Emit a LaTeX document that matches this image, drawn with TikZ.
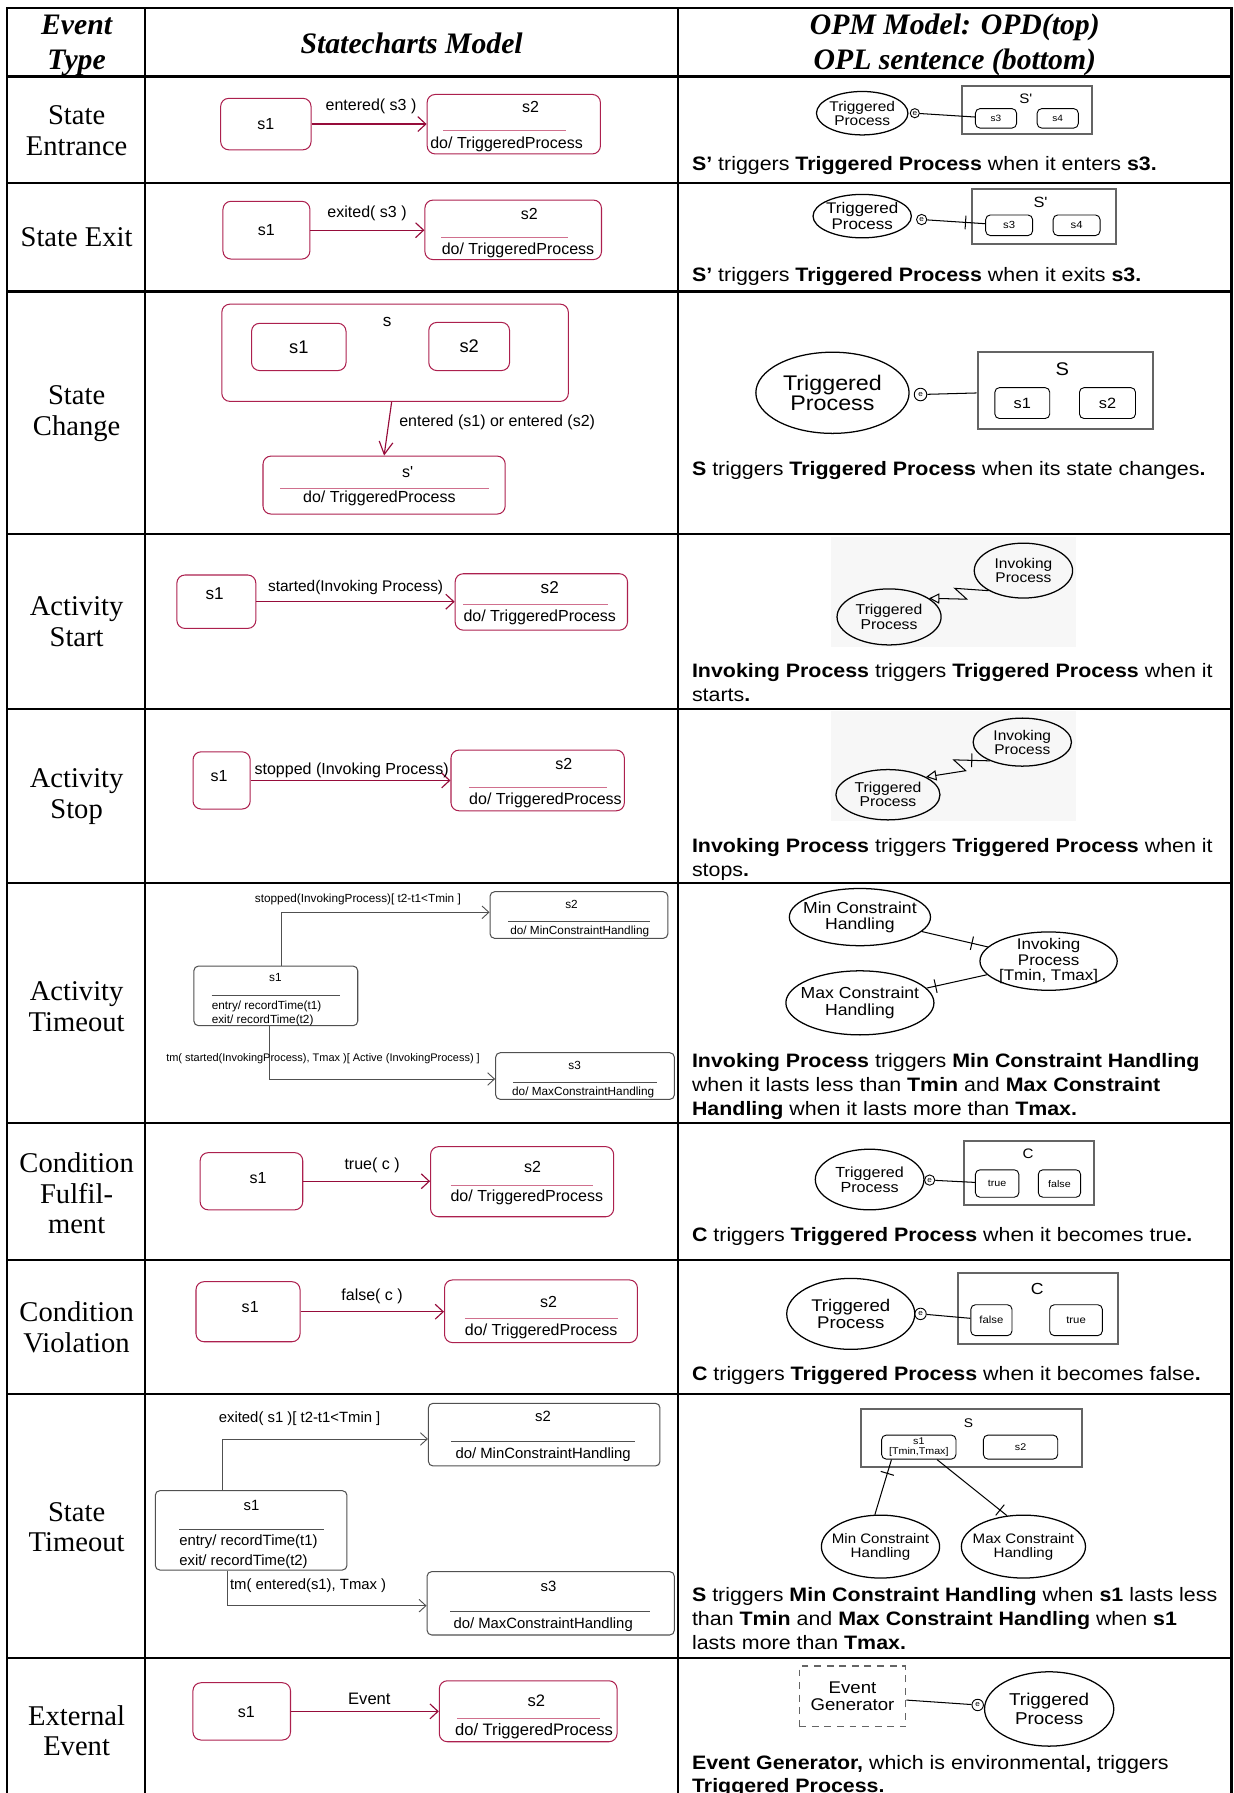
\documentclass[tikz,border=0pt]{standalone}
\usepackage{fontspec}
\setmainfont{Liberation Serif}
\newfontfamily\scfont{Liberation Sans}
\newfontfamily\opdfont[FakeStretch=1.1]{Liberation Sans}
\usetikzlibrary{arrows.meta,shapes.geometric}
\newcommand\txtsize[2]{\fontsize{#1}{#2}\selectfont}
\definecolor{scred}{RGB}{172,32,78}
\definecolor{scdark}{RGB}{150,12,58}
\definecolor{scdiv}{RGB}{208,112,142}
\definecolor{tmgrey}{RGB}{80,80,80}
\definecolor{opdgrey}{RGB}{100,100,100}
\tikzset{
  ruleline/.style={line width=2pt},
  colhead/.style={font=\bfseries\itshape\txtsize{26}{30.5}, align=center, inner sep=0pt},
  evtype/.style={font=\txtsize{25}{27}, align=center, inner sep=0pt},
  scbox/.style={draw=scred, line width=0.9pt, rounded corners=7pt, inner sep=0pt, font=\scfont\txtsize{14}{14}},
  sctext/.style={font=\scfont\txtsize{#1}{#1}, inner sep=0pt},
  scdivider/.style={draw=scdiv, line width=0.9pt},
  scarrow/.style={draw=scdark, line width=1pt, -{Straight Barb[length=7pt,width=13pt]}},
  tmbox/.style={draw=tmgrey, line width=0.9pt, rounded corners=4pt, inner sep=0pt},
  tmsmall/.style={font=\scfont\txtsize{10.3}{12.2}, inner sep=0pt},
  tmlarge/.style={font=\scfont\txtsize{13}{17.5}, inner sep=0pt},
  tmdivider/.style={draw=tmgrey, line width=0.9pt},
  tmarrow/.style={draw=tmgrey, line width=0.8pt, -{Straight Barb[length=6pt,width=11pt]}},
  proc/.style={draw, ellipse, line width=1.1pt, inner sep=-6pt, align=center},
  opdsize/.style={font=\opdfont\txtsize{#1}{#1}},
  objbox/.style={draw=opdgrey, line width=1.8pt, inner sep=0pt},
  statebox/.style={draw, rounded corners=4pt, line width=0.8pt, inner sep=0pt, align=center},
  evmark/.style={draw, circle, line width=0.8pt, minimum size=#1, inner sep=0pt, font=\opdfont\txtsize{6.5}{6.5}},
  opl/.style={font=\opdfont\txtsize{17}{21}, align=left, anchor=north west, inner sep=0pt},
  barmark/.style={draw, sloped, inner sep=0pt, minimum width=0pt, minimum height=12pt, line width=0.9pt},
  invoke/.style={line width=0.9pt, -{Triangle[open, length=9pt, width=9pt]}},
}
\begin{document}
\begin{tikzpicture}[x=1pt, y=-1pt]
\useasboundingbox (0,0) rectangle (1079,1568);

\draw[ruleline] (6,1572) -- (6,7) -- (1077,7) -- (1077,1572);
\draw[ruleline] (127,7) -- (127,1572);
\draw[ruleline] (593,7) -- (593,1572);
\foreach \y in {67,160,255,467,620,772,982,1102,1219,1450}
  \draw[ruleline] (6,\y) -- (1077,\y);

\node[colhead] (hEvent) at (67,39.5) {Event\\Type};
\node[colhead] (hModel) at (360,38) {Statecharts Model};
\node[colhead] (hOpm) at (835,39.5) {OPM Model: OPD(top)\\OPL sentence (bottom)};

\node[evtype] (tEntrance) at (67,114) {State\\Entrance};
\node[evtype] (tExit) at (67,207.5) {State Exit};
\node[evtype] (tChange) at (67,362) {State\\Change};
\node[evtype] (tActStart) at (67,543.5) {Activity\\Start};
\node[evtype] (tActStop) at (67,696.5) {Activity\\Stop};
\node[evtype] (tActTime) at (67,880.5) {Activity\\Timeout};
\node[evtype] (tFulfil) at (67,1043.5) {Condition\\Fulfil-\\ment};
\node[evtype] (tViolate) at (67,1161) {Condition\\Violation};
\node[evtype] (tStTime) at (67,1335.5) {State\\Timeout};
\node[evtype] (tExternal) at (67,1513.5) {External\\Event};

\node[scbox, minimum width=79pt, minimum height=45pt] (ent1) at (232.5,108.5) {s1};
\node[scbox, minimum width=151.5pt, minimum height=52pt] (ent2) at (449.3,108.6) {};
\node[sctext=14] (ent2n) at (464,94) {s2};
\draw[scdivider] (387.5,114) -- (495,114);
\node[sctext=14] (ent2d) at (443,126) {do/ TriggeredProcess};
\draw[scarrow] (ent1.east) -- (ent1.east -| ent2.west);
\node[sctext=14] (entLbl) at (324.5,93) {entered( s3 )};

\node[proc, minimum width=80pt, minimum height=38pt, opdsize=12.3] (entTrg) at (754,99) {Triggered\\Process};
\node[evmark=8pt] (entEv) at (800,99) {e};
\node[objbox, minimum width=114pt, minimum height=42pt] (entS) at (898,96) {};
\node[opdsize=12, inner sep=0pt] (entSn) at (897,86) {S'};
\node[statebox, minimum width=36pt, minimum height=17pt, opdsize=8] (entS3) at (871,103.5) {s3};
\node[statebox, minimum width=36pt, minimum height=17pt, opdsize=8] (entS4) at (925,103.5) {s4};
\draw[line width=0.9pt] (entEv) -- (entS3);
\node[opl] (entOpl) at (605,137) {\textbf{S’} triggers \textbf{Triggered Process} when it enters \textbf{s3.}};

\node[scbox, minimum width=76pt, minimum height=50.5pt] (ext1) at (233,201.3) {s1};
\node[scbox, minimum width=154.4pt, minimum height=52pt] (ext2) at (448.8,201) {};
\node[sctext=14] (ext2n) at (463,187) {s2};
\draw[scdivider] (386,207.5) -- (497,207.5);
\node[sctext=14] (ext2d) at (453,219) {do/ TriggeredProcess};
\draw[scarrow] (ext1.east) -- (ext1.east -| ext2.west);
\node[sctext=14] (extLbl) at (321,187) {exited( s3 )};

\node[proc, minimum width=86pt, minimum height=38pt, opdsize=13.5] (extTrg) at (754,189) {Triggered\\Process};
\node[evmark=9pt] (extEv) at (806,192) {e};
\node[objbox, minimum width=126pt, minimum height=48pt] (extS) at (913,189) {};
\node[opdsize=13, inner sep=0pt] (extSn) at (910,177) {S'};
\node[statebox, minimum width=41pt, minimum height=18pt, opdsize=9] (extS3) at (882.5,197) {s3};
\node[statebox, minimum width=41pt, minimum height=18pt, opdsize=9] (extS4) at (941.5,197) {s4};
\draw[line width=0.9pt] (extEv) -- node[barmark, pos=0.66] (extBar) {} (extS3);
\node[opl] (extOpl) at (605,234) {\textbf{S’} triggers \textbf{Triggered Process} when it exits \textbf{s3.}};

\node[scbox, minimum width=303pt, minimum height=85pt] (chs) at (345.5,308.5) {};
\node[sctext=15] (chsn) at (338.6,281.3) {s};
\node[scbox, minimum width=82.6pt, minimum height=41.3pt, font=\scfont\txtsize{16}{16}] (chs1) at (261.3,303.4) {s1};
\node[scbox, minimum width=70.6pt, minimum height=42.1pt, font=\scfont\txtsize{16}{16}] (chs2) at (410.3,303) {s2};
\node[scbox, minimum width=211.8pt, minimum height=50.7pt] (chsp) at (335.9,424.2) {};
\node[sctext=14] (chspn) at (356.5,412.5) {s'};
\draw[scdivider] (245,427.6) -- (427.7,427.6);
\node[sctext=14] (chspd) at (331.8,435.8) {do/ TriggeredProcess};
\draw[scarrow, -{Straight Barb[length=11pt,width=12pt]}] ([xshift=-3pt]chs.south) -- (chsp.north);
\node[sctext=14, anchor=west] (chsLbl) at (349,369.6) {entered (s1) or entered (s2)};

\node[proc, minimum width=134pt, minimum height=71pt, font=\opdfont\txtsize{18.5}{18}] (chgTrg) at (728,343.5) {Triggered\\Process};
\node[evmark=11pt] (chgEv) at (805,345) {e};
\node[objbox, minimum width=153pt, minimum height=67pt] (chgS) at (931.5,341.5) {};
\node[opdsize=16, inner sep=0pt] (chgSn) at (929,323) {S};
\node[statebox, minimum width=48pt, minimum height=27pt, opdsize=13] (chgS1) at (894,352.5) {s1};
\node[statebox, minimum width=49pt, minimum height=27pt, opdsize=13] (chgS2) at (968.5,352.5) {s2};
\draw[line width=0.9pt] (chgEv) -- (chgS);
\node[opl] (chgOpl) at (605,403) {\textbf{S} triggers \textbf{Triggered Process} when its state changes\textbf{.}};

\node[scbox, minimum width=69pt, minimum height=46.7pt] (ast1) at (189.2,526.2) {};
\node[sctext=15] (ast1n) at (187.7,519.5) {s1};
\node[scbox, minimum width=150.7pt, minimum height=49.3pt] (ast2) at (473.4,526.4) {};
\node[sctext=15] (ast2n) at (480.8,513.6) {s2};
\draw[scdivider] (405,529) -- (532,529);
\node[sctext=14] (ast2d) at (472,539.9) {do/ TriggeredProcess};
\draw[scarrow] (ast1.east) -- (ast1.east -| ast2.west);
\node[sctext=13.5] (astLbl) at (311,513.6) {started(Invoking Process)};

\fill[black!3] (727,470) rectangle (941,566);
\node[proc, minimum width=86pt, minimum height=48pt, opdsize=12.3] (astInv) at (895,499) {Invoking\\Process};
\node[proc, minimum width=91pt, minimum height=49pt, opdsize=12.5] (astTrg) at (777.5,539.5) {Triggered\\Process};
\draw[invoke] (astInv.210) -- (835,514.5) -- (845.5,524) -- (astTrg.25);
\node[opl] (astOpl) at (605,580) {\textbf{Invoking Process} triggers \textbf{Triggered Process} when it\\starts\textbf{.}};

\node[scbox, minimum width=50pt, minimum height=50pt] (asp1) at (193.8,682.5) {};
\node[sctext=14] (asp1n) at (191.5,678.6) {s1};
\node[scbox, minimum width=151.6pt, minimum height=53.1pt] (asp2) at (470.2,682.5) {};
\node[sctext=14] (asp2n) at (493,668) {s2};
\draw[scdivider] (410,688.5) -- (531,688.5);
\node[sctext=14] (asp2d) at (477,699.6) {do/ TriggeredProcess};
\draw[scarrow] (asp1.east) -- (asp1.east -| asp2.west);
\node[sctext=14] (aspLbl) at (307.5,673.4) {stopped (Invoking Process)};

\fill[black!3] (727,622) rectangle (941,718);
\node[proc, minimum width=86pt, minimum height=42pt, opdsize=12.3] (aspInv) at (894,649) {Invoking\\Process};
\node[proc, minimum width=91pt, minimum height=44pt, opdsize=12.5] (aspTrg) at (776.5,695) {Triggered\\Process};
\draw[invoke] (aspInv.210) -- node[barmark, pos=0.5] (aspBar) {} (834,664.5) -- (844.5,674) -- (aspTrg.25);
\node[opl] (aspOpl) at (605,733) {\textbf{Invoking Process} triggers \textbf{Triggered Process} when it\\stops\textbf{.}};

\node[tmbox, minimum width=143.3pt, minimum height=52.1pt] (ato1) at (241.2,870.9) {};
\node[tmsmall] (ato1n) at (240.8,854.7) {s1};
\draw[tmdivider] (185,870.7) -- (297.7,870.7);
\node[tmsmall, align=left, anchor=west] (ato1a) at (185,886) {entry/ recordTime(t1)\\exit/ recordTime(t2)};
\node[tmbox, minimum width=155.5pt, minimum height=40.8pt] (ato2) at (506.3,800.2) {};
\node[tmsmall] (ato2n) at (499.8,790.6) {s2};
\draw[tmdivider] (444.4,806) -- (568.8,806);
\node[tmsmall] (ato2d) at (507,814.7) {do/ MinConstraintHandling};
\node[tmbox, minimum width=156.3pt, minimum height=40.8pt] (ato3) at (511.6,941) {};
\node[tmsmall] (ato3n) at (502.5,932) {s3};
\draw[tmdivider] (449,946.5) -- (574.5,946.5);
\node[tmsmall] (ato3d) at (510,955.2) {do/ MaxConstraintHandling};
\draw[tmarrow] ([xshift=5.3pt]ato1.north) |- ([yshift=2.4pt]ato2.west);
\draw[tmarrow] ([xshift=-5.3pt]ato1.south) |- ([yshift=-2.6pt]ato3.west);
\node[tmsmall] (atoLbl1) at (313,786.5) {stopped(InvokingProcess)[ t2-t1<Tmin ]};
\node[tmsmall, font=\scfont\txtsize{9.6}{9.6}] (atoLbl2) at (282.5,926.1) {tm( started(InvokingProcess), Tmax )[ Active (InvokingProcess) ]};

\node[proc, minimum width=118pt, minimum height=50pt, opdsize=14] (atoMin) at (752,802) {Min Constraint\\Handling};
\node[proc, minimum width=120pt, minimum height=51pt, opdsize=13.5] (atoInv) at (917,840.5) {Invoking\\Process\\{}[Tmin, Tmax]};
\node[proc, minimum width=118pt, minimum height=56pt, opdsize=14] (atoMax) at (752,877) {Max Constraint\\Handling};
\draw[line width=0.9pt] (atoMin) -- node[barmark, pos=0.76] (atoBar1) {} (atoInv);
\draw[line width=0.9pt] (atoMax) -- node[barmark, pos=0.15] (atoBar2) {} (atoInv);
\node[opl] (atoOpl) at (605,921) {\textbf{Invoking Process} triggers \textbf{Min Constraint Handling}\\when it lasts less than \textbf{Tmin} and \textbf{Max Constraint}\\\textbf{Handling} when it lasts more than \textbf{Tmax.}};

\node[scbox, minimum width=89.7pt, minimum height=50pt] (cf1) at (219.9,1033) {};
\node[sctext=14] (cf1n) at (225.6,1030.4) {s1};
\node[scbox, minimum width=160.1pt, minimum height=61.3pt] (cf2) at (456.6,1033.4) {};
\node[sctext=14] (cf2n) at (465.7,1020.2) {s2};
\draw[scdivider] (394,1037.1) -- (518.8,1037.1);
\node[sctext=14] (cf2d) at (460.7,1047) {do/ TriggeredProcess};
\draw[scarrow] (cf1.east) -- (cf1.east -| cf2.west);
\node[sctext=14] (cfLbl) at (325.4,1018.7) {true( c )};

\node[proc, minimum width=95pt, minimum height=53pt, opdsize=12.8] (cfTrg) at (760.5,1031.5) {Triggered\\Process};
\node[evmark=9pt] (cfEv) at (813,1032) {e};
\node[objbox, minimum width=114pt, minimum height=56pt] (cfC) at (900,1026) {};
\node[opdsize=12, inner sep=0pt] (cfCn) at (899,1009) {C};
\node[statebox, minimum width=38pt, minimum height=24pt, opdsize=8.5] (cfTrue) at (872,1035) {true};
\node[statebox, minimum width=37pt, minimum height=24pt, opdsize=8.5] (cfFalse) at (926.5,1035) {false};
\draw[line width=0.9pt] (cfEv) -- (cfTrue);
\node[opl] (cfOpl) at (605,1073) {\textbf{C} triggers \textbf{Triggered Process} when it becomes true\textbf{.}};

\node[scbox, minimum width=91pt, minimum height=52.5pt] (cv1) at (216.9,1147.1) {};
\node[sctext=14] (cv1n) at (218.8,1142.7) {s1};
\node[scbox, minimum width=168.7pt, minimum height=54.8pt] (cv2) at (473.1,1146.7) {};
\node[sctext=14] (cv2n) at (479.7,1138.3) {s2};
\draw[scdivider] (406.5,1153.4) -- (540.4,1153.4);
\node[sctext=14] (cv2d) at (473.3,1164.5) {do/ TriggeredProcess};
\draw[scarrow] (cv1.east) -- (cv1.east -| cv2.west);
\node[sctext=14] (cvLbl) at (325.4,1133.9) {false( c )};

\node[proc, minimum width=112pt, minimum height=62pt, opdsize=14.8] (cvTrg) at (744,1149) {Triggered\\Process};
\node[evmark=10pt] (cvEv) at (805,1149) {e};
\node[objbox, minimum width=140pt, minimum height=62pt] (cvC) at (908,1144) {};
\node[opdsize=14, inner sep=0pt] (cvCn) at (907,1127) {C};
\node[statebox, minimum width=36pt, minimum height=27pt, opdsize=9] (cvFalse) at (867,1154.5) {false};
\node[statebox, minimum width=46pt, minimum height=27pt, opdsize=9] (cvTrue) at (941,1154.5) {true};
\draw[line width=0.9pt] (cvEv) -- (cvFalse);
\node[opl] (cvOpl) at (605,1195) {\textbf{C} triggers \textbf{Triggered Process} when it becomes false\textbf{.}};

\node[tmbox, minimum width=167.6pt, minimum height=69.4pt] (sto1) at (219.6,1338.3) {};
\node[tmlarge] (sto1n) at (220,1316.1) {s1};
\draw[tmdivider] (156.6,1337.4) -- (283.6,1337.4);
\node[tmlarge, align=left, anchor=west] (sto1a) at (156.6,1357) {entry/ recordTime(t1)\\exit/ recordTime(t2)};
\node[tmbox, minimum width=202.5pt, minimum height=54.8pt] (sto2) at (475.9,1254.6) {};
\node[tmlarge] (sto2n) at (474.8,1238.9) {s2};
\draw[tmdivider] (394.4,1260.7) -- (555.5,1260.7);
\node[tmlarge] (sto2d) at (475,1271.8) {do/ MinConstraintHandling};
\node[tmbox, minimum width=216.2pt, minimum height=55.4pt] (sto3) at (481.6,1402.1) {};
\node[tmlarge] (sto3n) at (479.7,1386.9) {s3};
\draw[tmdivider] (393.6,1408.9) -- (568.8,1408.9);
\node[tmlarge] (sto3d) at (475,1420.6) {do/ MaxConstraintHandling};
\draw[tmarrow] ([xshift=-25.4pt]sto1.north) |- ([yshift=-3.8pt]sto2.west);
\draw[tmarrow] ([xshift=-20.6pt]sto1.south) |- ([yshift=-2.1pt]sto3.west);
\node[tmlarge] (stoLbl1) at (262,1240.3) {exited( s1 )[ t2-t1<Tmin ]};
\node[tmlarge, anchor=west] (stoLbl2) at (201,1386.9) {tm( entered(s1), Tmax )};

\node[objbox, minimum width=193pt, minimum height=51pt] (stoS) at (849.5,1257.5) {};
\node[opdsize=11, inner sep=0pt] (stoSn) at (847,1245) {S};
\node[statebox, minimum width=65pt, minimum height=21pt, font=\opdfont\txtsize{8.5}{9}] (stoS1) at (803.5,1265.5) {s1\\{}[Tmin,Tmax]};
\node[statebox, minimum width=65pt, minimum height=21pt, opdsize=8.5] (stoS2) at (892.5,1265.5) {s2};
\node[proc, minimum width=100pt, minimum height=55pt, opdsize=12] (stoMin) at (770,1352.5) {Min Constraint\\Handling};
\node[proc, minimum width=100pt, minimum height=55pt, opdsize=12] (stoMax) at (895,1352.5) {Max Constraint\\Handling};
\draw[line width=0.9pt] ([xshift=9pt]stoS1.south west) -- node[barmark, pos=0.25] (stoBar1) {} (stoMin.100);
\draw[line width=0.9pt] ([xshift=-17pt]stoS1.south east) -- node[barmark, pos=0.9] (stoBar2) {} (stoMax.118);
\node[opl] (stoOpl) at (605,1388) {\textbf{S} triggers \textbf{Min Constraint Handling} when \textbf{s1} lasts less\\than \textbf{Tmin} and \textbf{Max Constraint Handling} when \textbf{s1}\\lasts more than \textbf{Tmax.}};

\node[scbox, minimum width=85.3pt, minimum height=50.1pt] (xe1) at (211.4,1496.6) {};
\node[sctext=14] (xe1n) at (215.4,1497) {s1};
\node[scbox, minimum width=155.4pt, minimum height=53.3pt] (xe2) at (461.9,1496.5) {};
\node[sctext=14.5] (xe2n) at (469,1487.3) {s2};
\draw[scdivider] (400,1502.9) -- (525,1502.9);
\node[sctext=14.5] (xe2d) at (467,1513.7) {do/ TriggeredProcess};
\draw[scarrow] (xe1.east) -- (xe1.east -| xe2.west);
\node[sctext=14.5] (xeLbl) at (323,1485.3) {Event};

\node[draw=opdgrey, dash pattern=on 6pt off 5pt, line width=1.3pt, minimum width=93pt, minimum height=53pt, opdsize=14.8, align=center, inner sep=0pt] (xeGen) at (745.5,1483.5) {Event\\Generator};
\node[evmark=10pt] (xeEv) at (855,1491) {e};
\node[proc, minimum width=113pt, minimum height=65pt, font=\opdfont\txtsize{15}{16.5}] (xeTrg) at (917.5,1494.5) {Triggered\\Process};
\draw[line width=0.9pt] (xeGen) -- (xeEv);
\node[opl, font=\opdfont\txtsize{17}{20}] (xeOpl) at (605,1535) {\textbf{Event Generator,} which is environmental\textbf{,} triggers\\\textbf{Triggered Process.}};
\end{tikzpicture}
\end{document}
